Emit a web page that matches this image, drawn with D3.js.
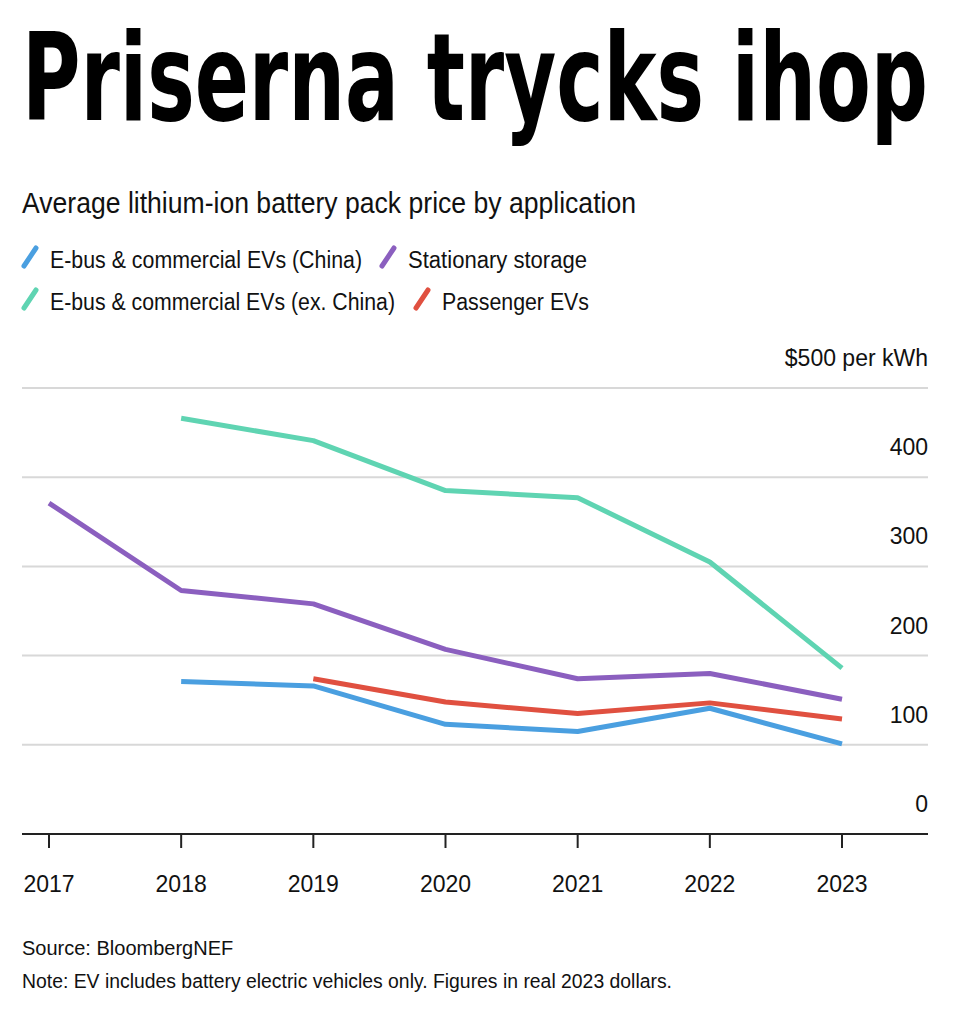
<!DOCTYPE html>
<html><head><meta charset="utf-8">
<script src="https://cdn.jsdelivr.net/npm/d3@7"></script>
<style>body{margin:0;background:#fff}</style>
</head><body>
<svg id="chart" width="970" height="1028"></svg>
<script>
const years = [2017, 2018, 2019, 2020, 2021, 2022, 2023];
const eBusChina = [null, 171, 166, 123, 115, 141, 101];
const eBusExChina = [null, 466, 441, 385, 377, 305, 186];
const stationary = [371, 273, 258, 207, 174, 180, 151];
const passenger = [null, null, 174, 148, 135, 147, 129];
const yTicks = [0, 100, 200, 300, 400, 500];

const series = [
  { name: "E-bus & commercial EVs (China)", values: eBusChina, color: "#4a9fe0" },
  { name: "Stationary storage", values: stationary, color: "#8b5fbf" },
  { name: "E-bus & commercial EVs (ex. China)", values: eBusExChina, color: "#5fd4b2" },
  { name: "Passenger EVs", values: passenger, color: "#e05040" }
];

const svg = d3.select("#chart");
const font = "Helvetica, 'Liberation Sans', Arial, sans-serif";

svg.append("text")
  .attr("x", 22).attr("y", 120)
  .attr("font-family", "'Liberation Sans Narrow', 'DejaVu Sans Condensed', sans-serif")
  .attr("font-weight", "bold").attr("font-size", 122)
  .attr("textLength", 906).attr("lengthAdjust", "spacingAndGlyphs")
  .text("Priserna trycks ihop");

svg.append("text")
  .attr("x", 22).attr("y", 213)
  .attr("font-family", font).attr("font-size", 29).attr("fill", "#111")
  .attr("textLength", 614).attr("lengthAdjust", "spacingAndGlyphs")
  .text("Average lithium-ion battery pack price by application");

const legendPos = [[22, 268, 312], [380, 268, 179], [22, 310, 345], [414, 310, 147]];
series.forEach((s, i) => {
  const [lx, ly, tl] = legendPos[i];
  svg.append("line")
    .attr("x1", lx + 2).attr("y1", ly - 2).attr("x2", lx + 14).attr("y2", ly - 20)
    .attr("stroke", s.color).attr("stroke-width", 5).attr("stroke-linecap", "round");
  svg.append("text")
    .attr("x", lx + 28).attr("y", ly)
    .attr("font-family", font).attr("font-size", 23).attr("fill", "#111")
    .attr("textLength", tl).attr("lengthAdjust", "spacingAndGlyphs")
    .text(s.name);
});

const x = d3.scalePoint().domain(years).range([49, 842]);
const y = d3.scaleLinear().domain([0, 500]).range([834, 388]);

yTicks.forEach(t => {
  svg.append("line")
    .attr("x1", 22).attr("x2", 928).attr("y1", y(t)).attr("y2", y(t))
    .attr("stroke", t === 0 ? "#222" : "#d8d8d8").attr("stroke-width", 2);
  svg.append("text")
    .attr("x", 928).attr("y", y(t) - 22)
    .attr("text-anchor", "end")
    .attr("font-family", font).attr("font-size", 23).attr("fill", "#111")
    .text(t === 500 ? "$500 per kWh" : t);
});

years.forEach(yr => {
  svg.append("line")
    .attr("x1", x(yr)).attr("x2", x(yr)).attr("y1", y(0)).attr("y2", y(0) + 14)
    .attr("stroke", "#222").attr("stroke-width", 2);
  svg.append("text")
    .attr("x", x(yr)).attr("y", 892).attr("text-anchor", "middle")
    .attr("font-family", font).attr("font-size", 23).attr("fill", "#111")
    .text(yr);
});

const line = d3.line()
  .defined(d => d != null)
  .x((d, i) => x(years[i]))
  .y(d => y(d));

[series[2], series[1], series[3], series[0]].forEach(s => {
  svg.append("path")
    .attr("d", line(s.values))
    .attr("fill", "none").attr("stroke", s.color)
    .attr("stroke-width", 5).attr("stroke-linejoin", "round");
});

svg.append("text").attr("x", 22).attr("y", 955)
  .attr("font-family", font).attr("font-size", 20).attr("fill", "#111")
  .text("Source: BloombergNEF");
svg.append("text").attr("x", 22).attr("y", 988)
  .attr("font-family", font).attr("font-size", 20).attr("fill", "#111")
  .attr("textLength", 650).attr("lengthAdjust", "spacingAndGlyphs")
  .text("Note: EV includes battery electric vehicles only. Figures in real 2023 dollars.");
</script>
</body></html>
